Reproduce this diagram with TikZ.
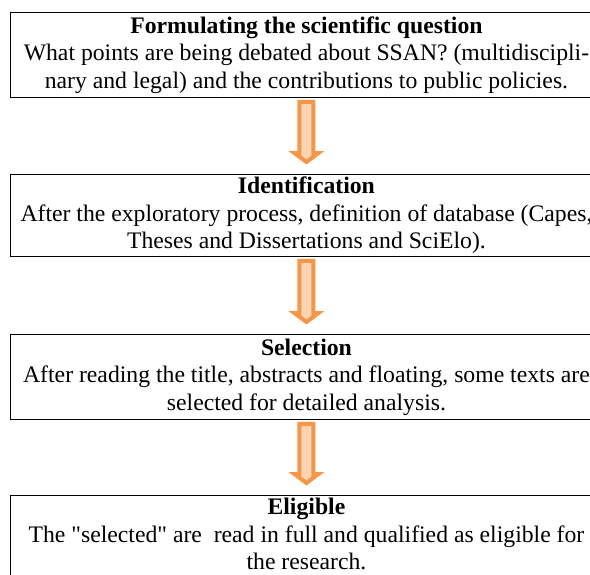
\documentclass[tikz,border=0pt]{standalone}
\usepackage{fontspec}
\setmainfont{Liberation Serif}
\usetikzlibrary{calc}

\definecolor{arroworange}{HTML}{F79646}
\definecolor{arrowfill}{HTML}{FBD4B4}

% block arrow from the bottom of one stage to the top of the next
\newcommand{\stagearrow}[2]{%
    \draw[flowarrow] ($(#1.south)+(-7,4)$) -- ($(#2.north)+(-7,-21)$)
        -- ($(#2.north)+(-12,-21)$) -- ($(#2.north)+(0,-12)$)
        -- ($(#2.north)+(12,-21)$) -- ($(#2.north)+(7,-21)$)
        -- ($(#1.south)+(7,4)$) -- cycle;}

\begin{document}
\begin{tikzpicture}[x=1pt, y=-1pt,
    stagebox/.style={draw=black, line width=0.9pt, rectangle, anchor=north west,
        minimum width=592pt, inner sep=1pt, align=center,
        font=\fontsize{23.7}{27.5}\selectfont},
    flowarrow/.style={draw=arroworange, fill=arrowfill, line width=4pt}]
    \useasboundingbox (0,0) rectangle (590,574);
    \clip (0,0) rectangle (590,574);

    \node[stagebox, minimum height=85pt] (question) at (10,12)
        {\textbf{Formulating the scientific question}\\
         What points are being debated about SSAN? (multidiscipli-\\
         nary and legal) and the contributions to public policies.};
    \node[stagebox, minimum height=82pt] (ident) at (10,174)
        {\textbf{Identification}\\
         After the exploratory process, definition of database (Capes,\\
         Theses and Dissertations and SciElo).};
    \node[stagebox, minimum height=85pt] (select) at (10,334)
        {\textbf{Selection}\\
         After reading the title, abstracts and floating, some texts are\\
         selected for detailed analysis.};
    \node[stagebox, inner ysep=3pt, text depth=72pt] (elig) at (10,495)
        {\textbf{Eligible}\\
         The \textquotedbl selected\textquotedbl{} are~ read in full and qualified as eligible for\\
         the research.};

    \stagearrow{question}{ident}
    \stagearrow{ident}{select}
    \stagearrow{select}{elig}
\end{tikzpicture}
\end{document}
